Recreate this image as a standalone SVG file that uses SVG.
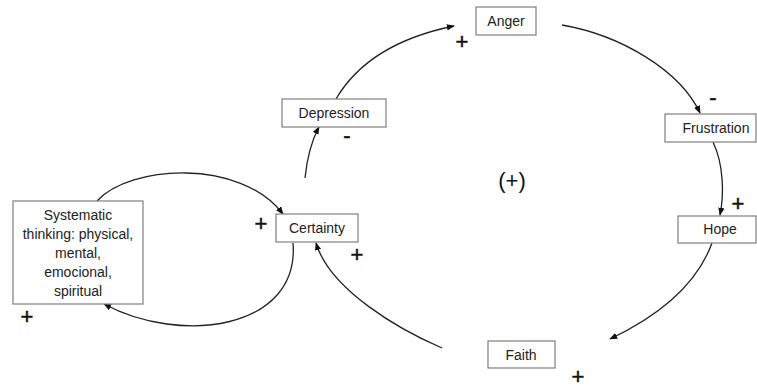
<svg xmlns="http://www.w3.org/2000/svg" width="757" height="389" viewBox="0 0 757 389">
<style>
.box{fill:#fff;stroke:#7f7f7f;stroke-width:1.2}
.lbl{font-family:"Liberation Sans",Arial,sans-serif;font-size:14px;fill:#222;text-anchor:middle}
.sign{font-family:"Liberation Sans",Arial,sans-serif;font-size:22px;fill:#111;stroke:#111;stroke-width:0.5;text-anchor:middle}
.con{fill:none;stroke:#222;stroke-width:1.3}
</style>
<defs>
<marker id="arr" viewBox="0 0 10 8" refX="9" refY="4" markerWidth="8" markerHeight="7" markerUnits="userSpaceOnUse" orient="auto">
<path d="M0,0 L10,4 L0,8 z" fill="#111"/>
</marker>
</defs>
<rect width="757" height="389" fill="#fff"/>
<g id="connectors">
<path class="con" marker-end="url(#arr)" d="M97,201 C130,165 240,158 283,214"/>
<path class="con" marker-end="url(#arr)" d="M293,243 C300,330 180,345 104,304"/>
<path class="con" marker-end="url(#arr)" d="M442,348 C400,330 330,290 316,243"/>
<path class="con" marker-end="url(#arr)" d="M305,178 C307,158 312,140 319,127"/>
<path class="con" marker-end="url(#arr)" d="M336,99 C360,58 405,36 454,26"/>
<path class="con" marker-end="url(#arr)" d="M562,25 C620,35 680,70 700,113"/>
<path class="con" marker-end="url(#arr)" d="M713,142 C724,165 724,195 720,215"/>
<path class="con" marker-end="url(#arr)" d="M712,243 C695,290 650,320 610,339"/>
</g>
<g id="systematic">
<rect class="box" x="13" y="201" width="130" height="103"/>
<text class="lbl" x="78" y="220">Systematic</text>
<text class="lbl" x="78" y="239">thinking: physical,</text>
<text class="lbl" x="78" y="258">mental,</text>
<text class="lbl" x="78" y="277">emocional,</text>
<text class="lbl" x="78" y="296">spiritual</text>
</g>
<g id="certainty">
<rect class="box" x="276" y="214" width="82" height="28"/>
<text class="lbl" x="317" y="233">Certainty</text>
</g>
<g id="depression">
<rect class="box" x="282" y="99" width="104" height="28"/>
<text class="lbl" x="334" y="118">Depression</text>
</g>
<g id="anger">
<rect class="box" x="476" y="7" width="60" height="28"/>
<text class="lbl" x="506" y="26">Anger</text>
</g>
<g id="frustration">
<rect class="box" x="665" y="114" width="91" height="28"/>
<text class="lbl" x="716" y="133">Frustration</text>
</g>
<g id="hope">
<rect class="box" x="678" y="216" width="78" height="27"/>
<text class="lbl" x="720" y="234">Hope</text>
</g>
<g id="faith">
<rect class="box" x="488" y="341" width="67" height="27"/>
<text class="lbl" x="521" y="360">Faith</text>
</g>
<g id="signs">
<text class="sign" x="27" y="324">+</text>
<text class="sign" x="261" y="231">+</text>
<text class="sign" x="357" y="262">+</text>
<text class="sign" x="462" y="49">+</text>
<text class="sign" x="347" y="143">-</text>
<text class="sign" x="713" y="105">-</text>
<text class="sign" x="738" y="211">+</text>
<text class="sign" x="578" y="384">+</text>
<text class="sign" x="512" y="188" style="stroke-width:0">(+)</text>
</g>
</svg>
